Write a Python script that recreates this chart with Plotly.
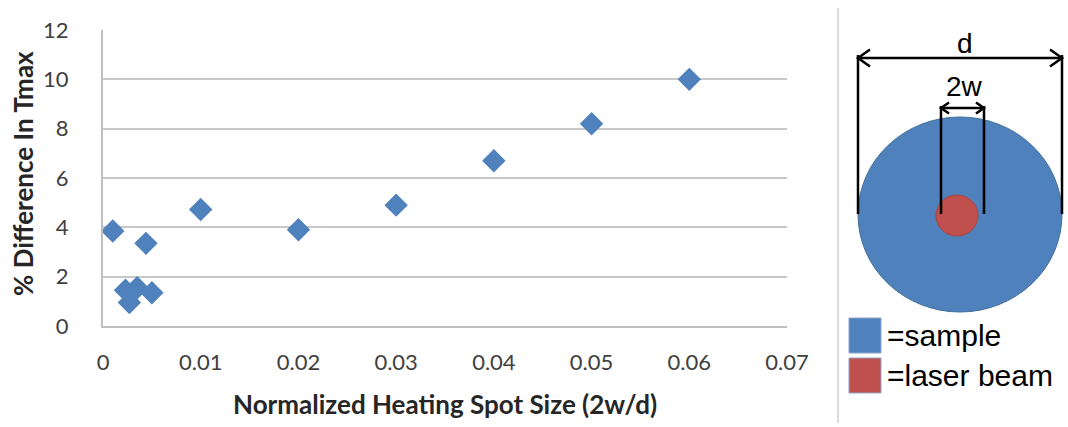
import plotly.graph_objects as go

# Normalized heating spot size (2w/d) and % difference in Tmax
spot_size = [0.001, 0.0023, 0.0027, 0.0035, 0.0044, 0.005, 0.01, 0.02, 0.03, 0.04, 0.05, 0.06]
pct_diff = [3.85, 1.45, 0.95, 1.55, 3.35, 1.35, 4.72, 3.9, 4.9, 6.7, 8.2, 10.0]

x_ticks = [0, 0.01, 0.02, 0.03, 0.04, 0.05, 0.06, 0.07]
x_tick_text = ["0", "0.01", "0.02", "0.03", "0.04", "0.05", "0.06", "0.07"]
y_ticks = [0, 2, 4, 6, 8, 10, 12]

BLUE = "#4F81BD"
RED = "#C0504D"
W, H = 1068, 427
FONT = "Lato"
DIAG_FONT = "Liberation Sans"


def px(x):
    return x / W


def py(y):
    return 1 - y / H


fig = go.Figure()
fig.add_trace(go.Scatter(
    x=spot_size, y=pct_diff, mode="markers",
    marker=dict(symbol="diamond", size=18, color=BLUE, line=dict(width=0)),
    showlegend=False, hoverinfo="x+y",
))

shapes = []
annotations = []

# axis titles
annotations.append(dict(text="<b>Normalized Heating Spot Size (2w/d)</b>", xref="paper", yref="paper",
                        x=px(445), y=py(404), xanchor="center", yanchor="middle", showarrow=False,
                        font=dict(family=FONT, size=26, color="#262626")))
annotations.append(dict(text="<b>% Difference In Tmax</b>", xref="paper", yref="paper",
                        x=px(23), y=py(174), xanchor="center", yanchor="middle", showarrow=False,
                        textangle=-90, font=dict(family=FONT, size=26, color="#262626")))

# separator between chart and schematic
shapes.append(dict(type="line", xref="paper", yref="paper",
                   x0=px(838), x1=px(838), y0=py(8), y1=py(423),
                   line=dict(color="#D0D0D0", width=1.5)))

# sample disk and laser spot
shapes.append(dict(type="circle", xref="paper", yref="paper",
                   x0=px(858), x1=px(1062), y0=py(312), y1=py(117),
                   fillcolor=BLUE, line=dict(color="#41719C", width=1)))
shapes.append(dict(type="circle", xref="paper", yref="paper",
                   x0=px(936), x1=px(978), y0=py(236), y1=py(195),
                   fillcolor=RED, line=dict(color="#A94442", width=1)))

# dimension lines
for xv, ytop in [(858, 55), (1062, 55), (941, 106), (984, 106)]:
    shapes.append(dict(type="line", xref="paper", yref="paper",
                       x0=px(xv), x1=px(xv), y0=py(ytop), y1=py(214),
                       line=dict(color="black", width=2.5)))


def arrow(xa, xb, y, head):
    shapes.append(dict(type="line", xref="paper", yref="paper",
                       x0=px(xa), x1=px(xb), y0=py(y), y1=py(y),
                       line=dict(color="black", width=2.5)))
    for xe, s in [(xa, 1), (xb, -1)]:
        shapes.append(dict(type="path", xref="paper", yref="paper",
                           path=(f"M {px(xe + s * head)},{py(y - head * 0.7)} "
                                 f"L {px(xe)},{py(y)} "
                                 f"L {px(xe + s * head)},{py(y + head * 0.7)}"),
                           line=dict(color="black", width=2.5)))


arrow(858, 1062, 58, 12)
arrow(941, 984, 108, 8)

annotations.append(dict(text="d", xref="paper", yref="paper", x=px(965), y=py(43),
                        xanchor="center", yanchor="middle",
                        showarrow=False, font=dict(family=DIAG_FONT, size=28, color="black")))
annotations.append(dict(text="2w", xref="paper", yref="paper", x=px(964), y=py(86),
                        xanchor="center", yanchor="middle",
                        showarrow=False, font=dict(family=DIAG_FONT, size=28, color="black")))

# schematic legend
for (y0, y1, col, label) in [(318, 353, BLUE, "=sample"), (358, 393, RED, "=laser beam")]:
    shapes.append(dict(type="rect", xref="paper", yref="paper",
                       x0=px(849), x1=px(881), y0=py(y1), y1=py(y0),
                       fillcolor=col, line=dict(color="#8FA6C8", width=1)))
    annotations.append(dict(text=label, xref="paper", yref="paper",
                            x=px(885), y=py((y0 + y1) / 2), xanchor="left", yanchor="middle",
                            showarrow=False,
                            font=dict(family=DIAG_FONT, size=30, color="black")))

axis_font = dict(family=FONT, size=22, color="#404040")

fig.update_layout(
    width=W, height=H,
    margin=dict(l=0, r=0, t=0, b=0),
    paper_bgcolor="white", plot_bgcolor="white",
    template="none",
    shapes=shapes, annotations=annotations,
    xaxis=dict(
        domain=[px(103), px(787)], range=[0, 0.07],
        tickvals=x_ticks, ticktext=x_tick_text, tickfont=axis_font,
        showgrid=False, zeroline=False, showline=True, linecolor="#BFBFBF", linewidth=2,
        ticks="", ticklabelstandoff=16, automargin=False,
    ),
    yaxis=dict(
        domain=[py(326), py(30)], range=[0, 12],
        tickvals=y_ticks, tickfont=axis_font,
        showgrid=True, gridcolor="#C8C8C8", gridwidth=2,
        zeroline=False, showline=True, linecolor="#BFBFBF", linewidth=2,
        ticks="", ticklabelstandoff=28, automargin=False,
    ),
)

fig.write_html("out.html")
